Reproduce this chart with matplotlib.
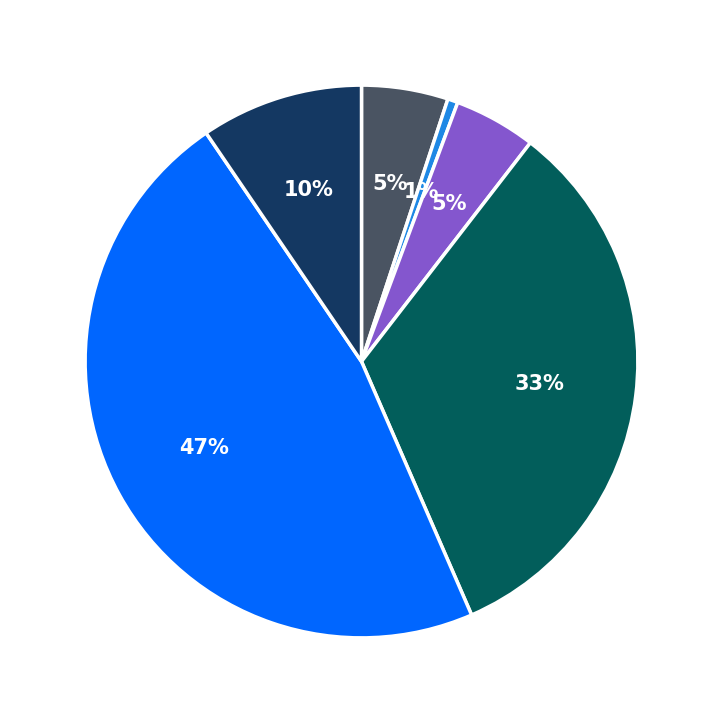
import matplotlib
matplotlib.use("Agg")
import matplotlib.pyplot as plt

# share of each slice, clockwise from 12 o'clock
values = [5.06, 0.6, 4.8, 33.0, 47.0, 9.5]
colors = ["#4a5462", "#1e88e5", "#8456ce", "#025e5b", "#0066ff", "#143862"]

fig = plt.figure(figsize=(7.23, 7.23), dpi=100)
ax = fig.add_axes([0, 0, 1, 1])
wedges, texts, autotexts = ax.pie(
    values, colors=colors, startangle=90, counterclock=False,
    autopct="%.0f%%", pctdistance=0.65,
    wedgeprops={"edgecolor": "white", "linewidth": 2.5},
    textprops={"color": "white", "fontsize": 15, "fontweight": "bold"},
)
lim = 361 / 276
ax.set_xlim(-lim, lim)
ax.set_ylim(-lim, lim)
ax.set_aspect("equal")
fig.savefig("out.png", dpi=100)
